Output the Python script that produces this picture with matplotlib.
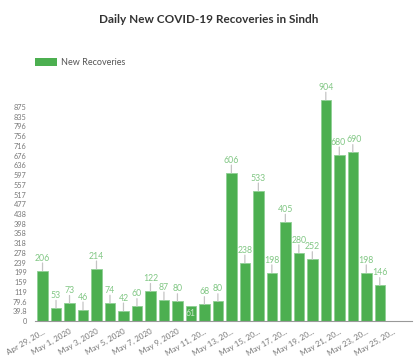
import numpy as np
import matplotlib
matplotlib.use("Agg")
import matplotlib.pyplot as plt
from matplotlib.patches import Patch

plt.rcParams['font.family'] = ['Lato', 'DejaVu Sans']

dates = ["Apr 29", "Apr 30", "May 1", "May 2", "May 3", "May 4", "May 5", "May 6",
         "May 7", "May 8", "May 9", "May 10", "May 11", "May 12", "May 13", "May 14",
         "May 15", "May 16", "May 17", "May 18", "May 19", "May 20", "May 21", "May 22",
         "May 23", "May 24"]
recoveries = [206, 53, 73, 46, 214, 74, 42, 60, 122, 87, 80, 61, 68, 80, 606, 238,
              533, 198, 405, 280, 252, 904, 680, 690, 198, 146]
tick_labels_x = ["Apr 29, 20...", "May 1, 2020", "May 3, 2020", "May 5, 2020",
                 "May 7, 2020", "May 9, 2020", "May 11, 20...", "May 13, 20...",
                 "May 15, 20...", "May 17, 20...", "May 19, 20...", "May 21, 20...",
                 "May 23, 20...", "May 25, 20..."]
tick_labels_y = ["0", "39.8", "79.6", "119", "159", "199", "239", "278", "318", "358",
                 "398", "438", "477", "517", "557", "597", "636", "676", "716", "756",
                 "796", "835", "875"]

green = "#4caf50"
label_green = "#81c784"

fig = plt.figure(figsize=(4.18, 3.62), dpi=100)
ax = fig.add_axes([0.084, 0.1133, 0.902, 0.6182])

x = np.arange(len(recoveries))
ax.bar(x, recoveries, width=0.78, color=green, edgecolor="#8fd094", linewidth=0.6)

# value labels with small vertical leader lines
for i, (xi, v) in enumerate(zip(x, recoveries)):
    if v == 61:
        ax.annotate(str(v), (xi, v), xytext=(0, -5), textcoords="offset points",
                    ha="center", va="center", fontsize=6.2, color="#c8e6c9")
        continue
    ax.annotate("", (xi, v), xytext=(0, 5.5), textcoords="offset points",
                arrowprops=dict(arrowstyle="-", color="#c4c4c4", lw=0.9,
                                shrinkA=0, shrinkB=0))
    dx = 0
    if i == 22:
        dx = -1.2
    elif i == 23:
        dx = 1.2
    ax.annotate(str(v), (xi, v), xytext=(dx, 9), textcoords="offset points",
                ha="center", va="center", fontsize=6.3, color=label_green)

ax.set_xlim(-0.55, 27.4)
ax.set_ylim(0, 915)

ax.set_yticks(np.linspace(0, 875, len(tick_labels_y)))
ax.set_yticklabels(tick_labels_y)
ax.set_xticks(np.arange(0, 2 * len(tick_labels_x), 2))
ax.set_xticklabels(tick_labels_x, rotation=30, ha="right", rotation_mode="anchor")
ax.tick_params(axis="both", length=0, labelcolor="#777777")
ax.tick_params(axis="y", pad=6, labelsize=5.3)
ax.tick_params(axis="x", pad=5, labelsize=5.8)

for side in ["top", "right", "left"]:
    ax.spines[side].set_visible(False)
ax.spines["bottom"].set_color("#999999")
ax.spines["bottom"].set_linewidth(0.8)

fig.text(0.5, 0.945, "Daily New COVID-19 Recoveries in Sindh", ha="center",
         va="center", fontsize=8.5, fontweight="bold", color="#333333")
fig.legend(handles=[Patch(facecolor=green, label="New Recoveries")],
           loc="center left", bbox_to_anchor=(0.065, 0.828), frameon=False,
           fontsize=6.5, handlelength=2.4, handleheight=1.1, handletextpad=0.4,
           labelcolor="#555555")

fig.savefig("out.png", dpi=100)
